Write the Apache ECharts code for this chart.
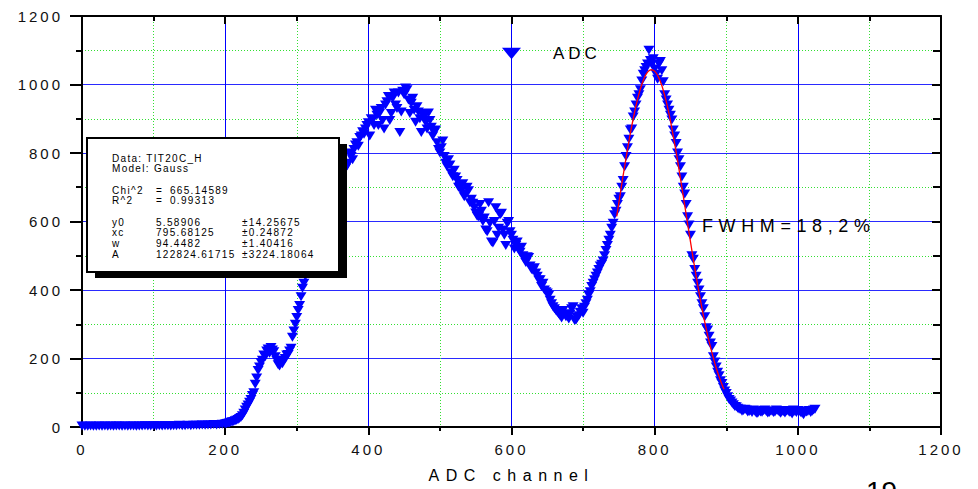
<!DOCTYPE html>
<html>
<head>
<meta charset="utf-8">
<script src="https://cdn.jsdelivr.net/npm/echarts@6/dist/echarts.min.js"></script>
<style>
  html, body { margin: 0; padding: 0; background: #ffffff; }
  #chart { width: 978px; height: 489px; }
  /* spaced-out lettering, keyed on the font size of each text group */
  #chart text[style*="15px"] { letter-spacing: 3px; }
  #chart text[style*="16px"] { letter-spacing: 6.5px; }
  #chart text[style*="17px"] { letter-spacing: 4px; }
  #chart text[style*="18px"] { letter-spacing: 5.6px; }
  #chart text[style*="10px"] { letter-spacing: 1.3px; }
</style>
</head>
<body>
<div id="chart"></div>
<script>
// ADC spectrum: counts every 4th channel, starting at channel 0
const channelStep = 4;
const adcCounts = [
  3, 2, 2, 3, 2, 2, 3, 2, 3, 2,            // 0-36
  3, 2, 3, 3, 2, 3, 2, 3, 3, 2,            // 40-76
  3, 3, 4, 3, 3, 4, 3, 4, 3, 4,            // 80-116
  4, 3, 4, 4, 5, 4, 4, 5, 4, 5,            // 120-156
  5, 5, 6, 5, 6, 6, 7, 6, 7, 8,            // 160-196
  9, 11, 14, 16, 20, 25, 33, 50, 64, 80,   // 200-236
  100, 143, 175, 195, 205, 228, 232, 220, 195, 178,   // 240-276
  185, 200, 212, 230, 280, 320, 355, 405, 440, 480,   // 280-316
  510, 540, 565, 590, 615, 640, 660, 680, 700, 715,   // 320-356
  730, 745, 755, 770, 790, 810, 830, 845, 862, 870,   // 360-396
  888, 900, 880, 910, 917, 895, 940, 965, 915, 975,   // 400-436
  930, 860, 980, 990, 955, 945, 925, 935, 900, 915,   // 440-476
  890, 917, 875, 860, 830, 800, 835, 770, 780, 740,   // 480-516
  750, 720, 702, 710, 680, 690, 665, 640, 615, 650,   // 520-556
  600, 575, 655, 540, 600, 560, 620, 575, 530, 600,   // 560-596
  560, 520, 540, 510, 500, 480, 495, 460, 465, 440,   // 600-636
  430, 420, 395, 385, 360, 345, 335, 325, 340, 322,   // 640-676
  315, 345, 312, 320, 335, 332, 360, 385, 410, 430,   // 680-716
  450, 470, 485, 515, 545, 580, 620, 650, 672, 720,   // 720-756
  790, 840, 870, 920, 960, 985, 1030, 1050, 1100, 1060, // 760-796
  1045, 1015, 1067, 1008, 955, 925, 896, 850, 800, 760, // 800-836
  700, 650, 590, 500, 460, 420, 380, 345, 290, 265,   // 840-876
  235, 190, 160, 135, 115, 98, 80, 70, 60, 55,        // 880-916
  52, 48, 50, 45, 42, 46, 40, 44, 48, 45,             // 920-956
  42, 46, 44, 48, 40, 45, 47, 43, 38, 45,             // 960-996
  48, 42, 36, 44, 48, 46, 52                          // 1000-1024
];

// the in-between channels (202, 206, ... 1022) of the same spectrum
const offsetStartChannel = 202;
const adcCountsOffset = [
  10, 12, 15, 18, 22, 28, 40, 58, 72, 92,             // 202-238
  125, 165, 188, 210, 222, 215, 225, 205, 182, 190,   // 242-278
  195, 210, 222, 262, 300, 340, 380, 420, 460, 495,   // 282-318
  525, 555, 575, 600, 630, 650, 672, 690, 708, 720,   // 322-358
  740, 748, 765, 800, 780, 823, 820, 850, 855, 880,   // 362-398
  850, 896, 925, 880, 930, 870, 950, 895, 960, 940,   // 402-438
  975, 920, 970, 985, 915, 960, 890, 920, 860, 905,   // 442-478
  870, 895, 850, 867, 810, 815, 790, 760, 765, 731,   // 482-518
  730, 700, 690, 672, 700, 655, 653, 625, 614, 630,   // 522-558
  610, 570, 595, 537, 640, 580, 624, 560, 595, 570,   // 562-598
  545, 530, 517, 525, 490, 497, 470, 458, 450, 429,   // 602-638
  410, 400, 391, 370, 351, 340, 330, 318, 330, 325,   // 642-678
  330, 351, 312, 325, 345, 350, 370, 395, 420, 440,   // 682-718
  460, 475, 500, 530, 560, 595, 630, 665, 700, 760,   // 722-758
  815, 867, 905, 940, 970, 1010, 1040, 1060, 1070, 1075, // 762-798
  1030, 1060, 1040, 970, 940, 910, 867, 828, 780, 730, // 802-838
  680, 614, 560, 490, 440, 400, 360, 322, 283, 245,   // 842-878
  205, 175, 150, 127, 105, 88, 76, 65, 59, 52,        // 882-918
  46, 52, 44, 48, 50, 40, 47, 43, 50, 41,             // 922-958
  47, 42, 50, 44, 46, 41, 48, 44, 50, 42,             // 962-998
  46, 40, 47, 45, 42, 50                              // 1002-1022
];

// Gaussian fit of the right-hand peak
const fitChannels = [747, 750, 755, 760, 765, 770, 775, 780, 785, 790, 795, 800, 805, 810, 815,
  820, 825, 830, 835, 840, 845, 850, 855, 860, 865, 870, 875, 880, 885, 890, 895, 897];
const fitCounts = [615, 655, 722, 785, 846, 900, 948, 987, 1017, 1036, 1043, 1039, 1023, 997, 960,
  915, 861, 803, 739, 674, 607, 541, 477, 416, 359, 306, 259, 217, 179, 147, 119, 110];

// fit report
const fitHeader = ['Data: TIT20C_H', 'Model: Gauss'];
const fitStatNames = ['Chi^2', 'R^2'];
const fitStatValues = ['665.14589', '0.99313'];
const fitParamNames = ['y0', 'xc', 'w', 'A'];
const fitParamValues = ['5.58906', '795.68125', '94.4482', '122824.61715'];
const fitParamErrors = ['±14.25675', '±0.24872', '±1.40416', '±3224.18064'];

const seriesName = 'ADC';
const xTitle = 'ADC channel';
const peakNote = 'FWHM=18,2%';
const pageNumber = '19';

const FONT = 'Liberation Sans';
const chart = echarts.init(document.getElementById('chart'), null, { renderer: 'svg' });

const boxTexts = [];
function boxText(str, x, y) {
  boxTexts.push({
    type: 'text', z: 102,
    style: { text: str, x: x, y: y, fill: '#000', fontSize: 10, fontFamily: FONT, verticalAlign: 'middle', align: 'left' }
  });
}
fitHeader.forEach((s, i) => boxText(s, 112, 158 + i * 10));
fitStatNames.forEach((s, i) => {
  boxText(s, 112, 190 + i * 10);
  boxText('=', 156, 190 + i * 10);
  boxText(fitStatValues[i], 170, 190 + i * 10);
});
const paramRowY = [222, 232, 243, 254];
fitParamNames.forEach((s, i) => {
  boxText(s, 112, paramRowY[i]);
  boxText(fitParamValues[i], 156, paramRowY[i]);
  boxText(fitParamErrors[i], 242, paramRowY[i]);
});

const plainNumber = v => String(v);
const axisFont = { fontSize: 15, fontFamily: FONT, color: '#111', formatter: plainNumber };

const spectrum = adcCounts.map((v, i) => [i * channelStep, v])
  .concat(adcCountsOffset.map((v, i) => [offsetStartChannel + i * channelStep, v]))
  .sort((a, b) => a[0] - b[0]);

chart.setOption({
  animation: false,
  backgroundColor: '#ffffff',
  grid: { left: 82, right: 37, top: 16, bottom: 62 },
  legend: {
    data: [seriesName],
    left: 497, top: 40,
    icon: 'path://M0,0L20,0L10,12Z',
    itemWidth: 19, itemHeight: 12,
    textStyle: { fontSize: 17, fontFamily: FONT, color: '#000', padding: [0, 0, 0, 27] }
  },
  xAxis: [{
    type: 'value', min: 0, max: 1200, interval: 200,
    name: xTitle, nameLocation: 'middle', nameGap: 40,
    nameTextStyle: { fontSize: 16, fontFamily: FONT, color: '#000' },
    axisLine: { onZero: false, lineStyle: { color: '#000', width: 2 } },
    axisTick: { length: 8, lineStyle: { color: '#000', width: 2 } },
    minorTick: { show: true, splitNumber: 2, length: 4, lineStyle: { color: '#000', width: 2 } },
    axisLabel: Object.assign({ margin: 15 }, axisFont),
    splitLine: { show: true, lineStyle: { color: '#0000ff', width: 1 } },
    minorSplitLine: { show: true, lineStyle: { color: '#33e033', width: 1, type: [1, 2] } }
  }, {
    type: 'value', position: 'top', min: 0, max: 1200, interval: 200,
    axisLine: { onZero: false, lineStyle: { color: '#000', width: 2 } },
    axisTick: { inside: true, length: 8, lineStyle: { color: '#000', width: 2 } },
    minorTick: { show: true, splitNumber: 2, length: 5, lineStyle: { color: '#000', width: 2 } },
    axisLabel: { show: false },
    splitLine: { show: false }
  }],
  yAxis: [{
    type: 'value', min: 0, max: 1200, interval: 200,
    axisLine: { onZero: false, lineStyle: { color: '#000', width: 2 } },
    axisTick: { length: 12, lineStyle: { color: '#000', width: 2 } },
    minorTick: { show: true, splitNumber: 2, length: 6, lineStyle: { color: '#000', width: 2 } },
    axisLabel: Object.assign({ margin: 19 }, axisFont),
    splitLine: { show: true, lineStyle: { color: '#2a2aff', width: 1 } },
    minorSplitLine: { show: true, lineStyle: { color: '#33e033', width: 1, type: [1, 2] } }
  }, {
    type: 'value', position: 'right', min: 0, max: 1200, interval: 200,
    axisLine: { show: true, onZero: false, lineStyle: { color: '#000', width: 2 } },
    axisTick: { show: true, inside: true, length: 9, lineStyle: { color: '#000', width: 2 } },
    minorTick: { show: true, splitNumber: 2, length: 8, lineStyle: { color: '#000', width: 2 } },
    axisLabel: { show: false },
    splitLine: { show: false }
  }],
  series: [{
    name: seriesName,
    type: 'scatter',
    xAxisIndex: 0, yAxisIndex: 0,
    symbol: 'triangle',
    symbolRotate: 180,
    symbolSize: [11, 9],
    itemStyle: { color: '#0000ff', opacity: 1 },
    data: spectrum,
    z: 3
  }, {
    name: 'Gauss fit',
    type: 'line',
    xAxisIndex: 0, yAxisIndex: 0,
    showSymbol: false,
    smooth: 0.3,
    lineStyle: { color: '#ff0000', width: 1.3 },
    data: fitChannels.map((c, i) => [c, fitCounts[i]]),
    z: 4
  }],
  graphic: [
    { type: 'rect', z: 100, shape: { x: 95, y: 144, width: 252, height: 134 }, style: { fill: '#000' } },
    { type: 'rect', z: 101, shape: { x: 87, y: 138, width: 252, height: 134 }, style: { fill: '#fff', stroke: '#000', lineWidth: 2 } },
    ...boxTexts,
    { type: 'text', z: 50, style: { text: peakNote, x: 702, y: 226, fill: '#000', fontSize: 18, fontFamily: FONT, verticalAlign: 'middle', align: 'left' } },
    { type: 'text', z: 50, style: { text: pageNumber, x: 866, y: 477, fill: '#000', fontSize: 28, fontFamily: FONT, verticalAlign: 'top', align: 'left' } }
  ]
});
</script>
</body>
</html>
